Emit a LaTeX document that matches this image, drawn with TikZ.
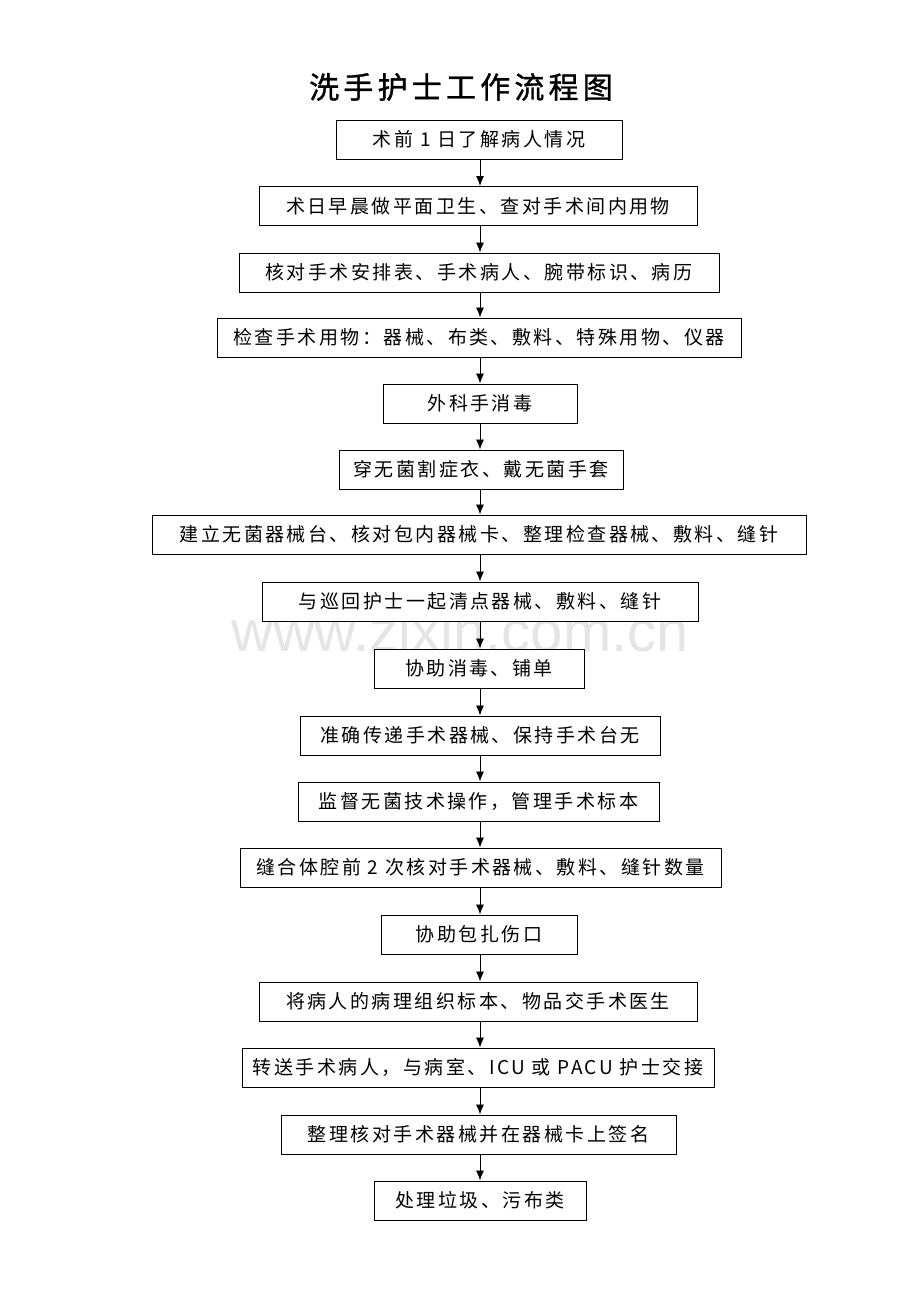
\documentclass[tikz,border=0pt]{standalone}
\usepackage{fontspec}
\setmainfont{Noto Sans CJK SC}[LetterSpace=13]
\newfontfamily\titlefont{Noto Sans CJK SC}[LetterSpace=14,FakeBold=1.2]
\newfontfamily\wmfont{Liberation Sans}
\usetikzlibrary{arrows.meta}
\definecolor{wmgray}{gray}{0.9}
\tikzset{
  box/.style={draw=black, line width=1pt, fill=white, minimum height=39pt, inner sep=0pt,
    font=\fontsize{19}{19}\selectfont, text=black},
  arr/.style={draw=black, line width=0.9pt, -{Latex[length=10pt,width=8pt]}},
  ttl/.style={font=\titlefont\fontsize{30}{30}\selectfont},
  wm/.style={font=\wmfont\fontsize{58}{58}\selectfont, text=wmgray, anchor=base, inner sep=0pt}
}
\begin{document}
\begin{tikzpicture}[x=1pt,y=-1pt]
\useasboundingbox (0,0) rectangle (920,1302);
\fill[white] (0,0) rectangle (920,1302);
\node[ttl] (title) at (461,87) {洗手护士工作流程图};
\node[wm] (wm) at (460,651) {www.zixin.com.cn};
\coordinate (ax) at (480,0);
\node[box, minimum width=286pt] (b1)  at (479,139.5)  {术前 1 日了解病人情况};
\node[box, minimum width=438pt] (b2)  at (478,206)    {术日早晨做平面卫生、查对手术间内用物};
\node[box, minimum width=480pt] (b3)  at (479,272.5)  {核对手术安排表、手术病人、腕带标识、病历};
\node[box, minimum width=524pt] (b4)  at (479,337.5)  {检查手术用物：器械、布类、敷料、特殊用物、仪器};
\node[box, minimum width=194pt] (b5)  at (480,403.5)  {外科手消毒};
\node[box, minimum width=284pt] (b6)  at (481,469.5)  {穿无菌割症衣、戴无菌手套};
\node[box, minimum width=654pt] (b7)  at (479,534.5)  {建立无菌器械台、核对包内器械卡、整理检查器械、敷料、缝针};
\node[box, minimum width=436pt] (b8)  at (480,601.5)  {与巡回护士一起清点器械、敷料、缝针};
\node[box, minimum width=210pt] (b9)  at (479,668.5)  {协助消毒、铺单};
\node[box, minimum width=360pt] (b10) at (480,735.5)  {准确传递手术器械、保持手术台无};
\node[box, minimum width=361pt] (b11) at (478.5,801.5) {监督无菌技术操作，管理手术标本};
\node[box, minimum width=481pt] (b12) at (480.5,867.5) {缝合体腔前 2 次核对手术器械、敷料、缝针数量};
\node[box, minimum width=196pt] (b13) at (479,934.5)  {协助包扎伤口};
\node[box, minimum width=438pt] (b14) at (478,1001.5) {将病人的病理组织标本、物品交手术医生};
\node[box, minimum width=472pt] (b15) at (478,1067.5) {转送手术病人，与病室、ICU 或 PACU 护士交接};
\node[box, minimum width=395pt] (b16) at (478.5,1134.5) {整理核对手术器械并在器械卡上签名};
\node[box, minimum width=212pt] (b17) at (480,1200.5) {处理垃圾、污布类};
\foreach \a/\b in {b1/b2,b2/b3,b3/b4,b4/b5,b5/b6,b6/b7,b7/b8,b8/b9,b9/b10,b10/b11,b11/b12,b12/b13,b13/b14,b14/b15,b15/b16,b16/b17}
  \draw[arr] (\a.south -| ax) -- (\b.north -| ax);
\end{tikzpicture}
\end{document}
